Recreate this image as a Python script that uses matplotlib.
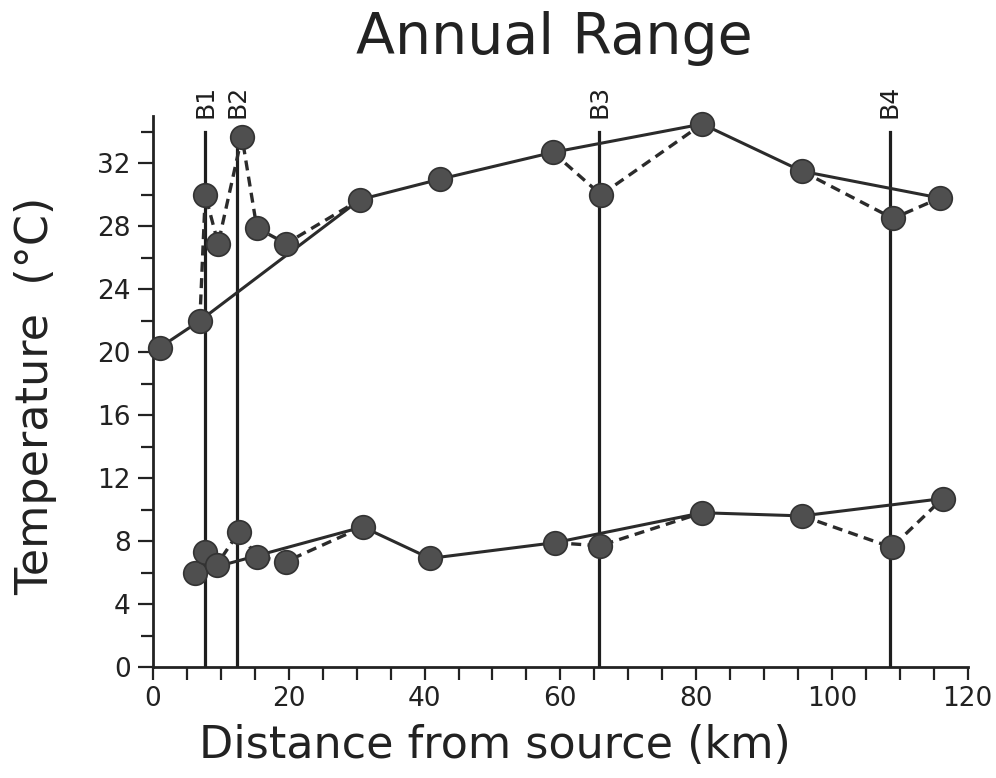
import matplotlib
matplotlib.use("Agg")
import matplotlib.pyplot as plt
from matplotlib.ticker import MultipleLocator

# upper curve (maximum)
upper_km = [1.0, 6.9, 7.7, 9.6, 13.1, 15.3, 19.6, 30.5, 42.3, 58.9, 66.0, 80.9, 95.6, 109.0, 115.9]
upper_temp = [20.3, 22.0, 30.0, 26.9, 33.7, 27.9, 26.9, 29.7, 31.0, 32.7, 30.0, 34.5, 31.5, 28.5, 29.8]
upper_solid = [0, 1, 7, 8, 9, 11, 12, 14]
upper_dashed = [[1, 2, 3, 4, 5, 6, 7], [9, 10, 11], [12, 13, 14]]

# lower curve (minimum)
lower_km = [6.2, 7.7, 9.4, 12.7, 15.3, 19.6, 30.9, 40.8, 59.2, 65.8, 80.9, 95.6, 108.8, 116.3]
lower_temp = [6.0, 7.3, 6.5, 8.6, 7.0, 6.7, 8.9, 6.9, 7.9, 7.7, 9.8, 9.6, 7.6, 10.7]
lower_solid = [0, 6, 7, 8, 10, 11, 13]
lower_dashed = [[0, 1, 2, 3, 4, 5, 6], [8, 9, 10], [11, 12, 13]]

# barrier positions
barrier_names = ["B1", "B2", "B3", "B4"]
barrier_km = [7.7, 12.4, 65.7, 108.5]
barrier_top = 34.0

line_col = "#2b2b2b"
face_col = "#4f4f4f"


def draw_series(ax, xs, ys, solid, dashed):
    ax.plot([xs[i] for i in solid], [ys[i] for i in solid],
            color=line_col, lw=2.2, zorder=3)
    for seg in dashed:
        ax.plot([xs[i] for i in seg], [ys[i] for i in seg],
                color=line_col, lw=2.4, dashes=(3.0, 1.9), zorder=3)
    ax.plot(xs, ys, ls="none", marker="o", ms=17,
            mfc=face_col, mec="#333333", mew=1.2, zorder=5, clip_on=False)


fig = plt.figure(figsize=(9.96, 7.78), dpi=100)
ax = fig.add_axes([0.1536, 0.1427, 0.818, 0.708])

for name, km in zip(barrier_names, barrier_km):
    ax.plot([km, km], [0, barrier_top], color="#1e1e1e", lw=2.3, zorder=2)
    ax.text(km, barrier_top + 0.9, name, rotation=90, ha="center", va="bottom",
            fontsize=18, color="#1e1e1e", clip_on=False)

draw_series(ax, upper_km, upper_temp, upper_solid, upper_dashed)
draw_series(ax, lower_km, lower_temp, lower_solid, lower_dashed)

ax.set_xlim(0, 120)
ax.set_ylim(0, 35)
ax.xaxis.set_major_locator(MultipleLocator(20))
ax.xaxis.set_minor_locator(MultipleLocator(5))
ax.yaxis.set_major_locator(MultipleLocator(4))
ax.yaxis.set_minor_locator(MultipleLocator(2))
ax.set_yticks(range(0, 33, 4))
ax.tick_params(which="both", direction="out", width=1.6, color="#222222",
               labelsize=19, labelcolor="#222222")
ax.tick_params(axis="x", which="both", length=9, pad=5)
ax.tick_params(axis="y", which="major", length=11, pad=5)
ax.tick_params(axis="y", which="minor", length=9)

for side in ["top", "right"]:
    ax.spines[side].set_visible(False)
for side in ["left", "bottom"]:
    ax.spines[side].set_linewidth(2.0)
    ax.spines[side].set_color("#222222")

fig.text(0.557, 0.951, "Annual Range", ha="center", va="center",
         fontsize=41, color="#222222")
fig.text(0.497, 0.042, "Distance from source (km)", ha="center", va="center",
         fontsize=32, color="#222222")
fig.text(0.036, 0.491, "Temperature  (°C)", ha="center", va="center",
         rotation=90, fontsize=32, color="#222222")

fig.savefig("out.png", dpi=100)
